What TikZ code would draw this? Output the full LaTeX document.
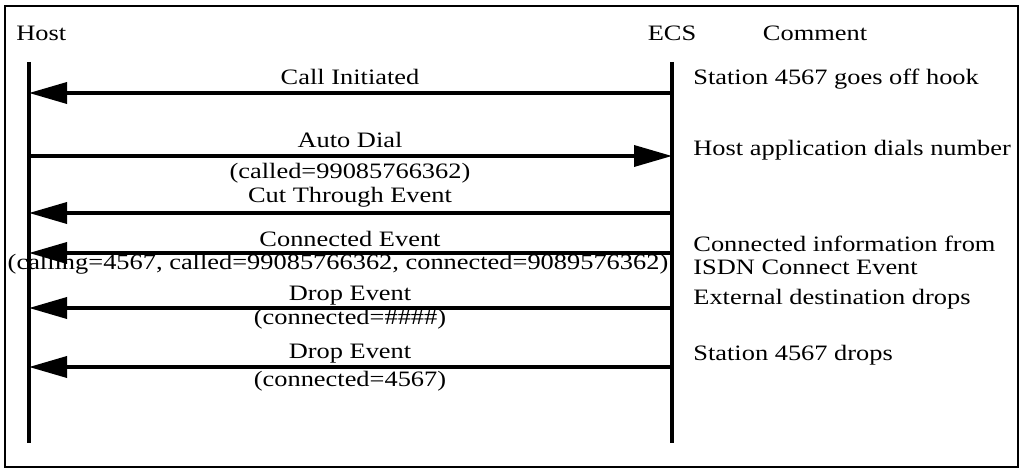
\documentclass[tikz,border=0pt]{standalone}
\usepackage{fontspec}
\setmainfont{Liberation Serif}
\usepackage{graphicx}
\usetikzlibrary{arrows.meta}
\newcommand{\wide}[1]{\scalebox{1.2}[1]{#1}}

\begin{document}
\begin{tikzpicture}[x=0.5pt,y=-0.5pt,
  every node/.style={font=\fontsize{11}{11.5}\selectfont,inner sep=0pt},
  lbl/.style={anchor=base},
  note/.style={anchor=base west},
  life/.style={line width=1.7pt},
  msg/.style={line width=1.8pt,-{Triangle[length=19pt,width=10.5pt]}}]
\useasboundingbox (0,0) rectangle (1023,469);
\draw[line width=1.1pt] (5,6) rectangle (1018,467);
% column heads
\node[note] (host) at (16,41) {\wide{Host}};
\node[lbl] (ecs) at (672,41) {\wide{ECS}};
\node[lbl] (comment) at (815,41) {\wide{Comment}};
% lifelines
\coordinate (hTop) at (29,62);  \coordinate (hBot) at (29,443);
\coordinate (eTop) at (672,62); \coordinate (eBot) at (672,443);
\draw[life] (hTop) -- (hBot);
\draw[life] (eTop) -- (eBot);
% message end points
\coordinate (h1) at (29,93);  \coordinate (e1) at (672,93);
\coordinate (h2) at (29,156); \coordinate (e2) at (672,156);
\coordinate (h3) at (29,213); \coordinate (e3) at (672,213);
\coordinate (h4) at (29,253); \coordinate (e4) at (672,253);
\coordinate (h5) at (29,308); \coordinate (e5) at (672,308);
\coordinate (h6) at (29,367); \coordinate (e6) at (672,367);
% messages
\draw[msg] (e1) -- (h1);
\draw[msg] (h2) -- (e2);
\draw[msg] (e3) -- (h3);
\draw[msg] (e4) -- (h4);
\draw[msg] (e5) -- (h5);
\draw[msg] (e6) -- (h6);
% message labels
\node[lbl] (callinit) at (350,85) {\wide{Call Initiated}};
\node[lbl] (autodial) at (350,148) {\wide{Auto Dial}};
\node[lbl] (autoarg) at (350,179) {\wide{(called=99085766362)}};
\node[lbl] (cutthru) at (350,203) {\wide{Cut Through Event}};
\node[lbl] (connev) at (350,247) {\wide{Connected Event}};
\node[lbl] (connarg) at (338,270) {\wide{(calling=4567, called=99085766362, connected=9089576362)}};
\node[lbl] (drop1) at (350,301) {\wide{Drop Event}};
\node[lbl] (drop1arg) at (350,325) {\wide{(connected=\#\#\#\#)}};
\node[lbl] (drop2) at (350,359) {\wide{Drop Event}};
\node[lbl] (drop2arg) at (350,387) {\wide{(connected=4567)}};
% comments
\node[note] (c1) at (693,85) {\wide{Station 4567 goes off hook}};
\node[note] (c2) at (693,156) {\wide{Host application dials number}};
\node[note] (c4) at (693,252) {\wide{\begin{tabular}[t]{@{}l@{}}Connected information from\\ISDN Connect Event\end{tabular}}};
\node[note] (c5) at (693,305) {\wide{External destination drops}};
\node[note] (c6) at (693,361) {\wide{Station 4567 drops}};
\end{tikzpicture}
\end{document}
